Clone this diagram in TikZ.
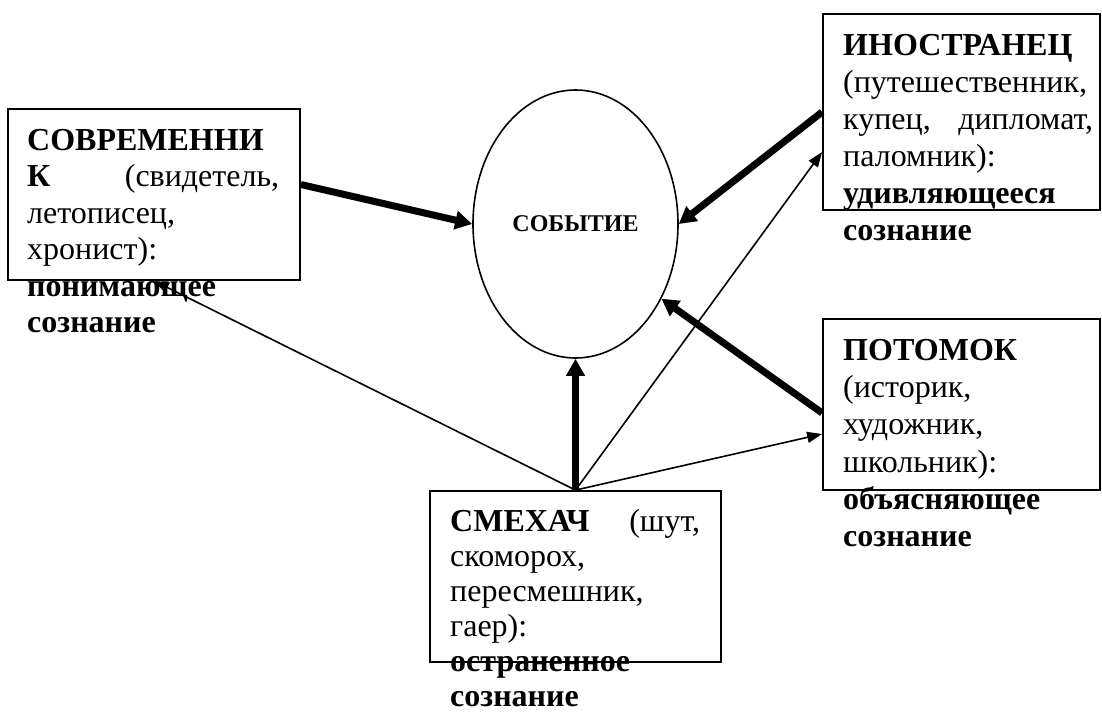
\documentclass[tikz,border=0pt]{standalone}
\usepackage{fontspec}
\setmainfont{Liberation Serif}
\usetikzlibrary{shapes.geometric,arrows.meta}
\begin{document}
\begin{tikzpicture}[x=1pt,y=-1pt,
  box/.style={draw,line width=1.8pt,rectangle,inner sep=0pt},
  txt/.style={anchor=north west,inner sep=0pt,text width=252pt,align=left},
  thickarrow/.style={line width=7pt,-{Triangle[length=17pt,width=18pt]}},
  thinarrow/.style={line width=1.6pt,-{Triangle[length=15pt,width=11pt]}},
]
\useasboundingbox[fill=white] (0,0) rectangle (1102,714);

% texts
\node[txt,font=\fontsize{32}{36.5}\selectfont] (ltxt) at (27,126)
  {\rule{0pt}{24pt}\textbf{СОВРЕМЕННИ}\\
   \textbf{К}\hfill(свидетель,\\
   летописец,\\
   хронист):\\
   \textbf{понимающее}\\
   \textbf{сознание}};
\node[txt,text width=250pt,font=\fontsize{32}{37}\selectfont] (itxt) at (843,31)
  {\rule{0pt}{24pt}\textbf{ИНОСТРАНЕЦ}\\
   (путешественник,\\
   купец,\hfill дипломат,\\
   паломник):\\
   \textbf{удивляющееся}\\
   \textbf{сознание}};
\node[txt,font=\fontsize{32}{37.3}\selectfont] (ptxt) at (843,336)
  {\rule{0pt}{24pt}\textbf{ПОТОМОК}\\
   (историк,\\
   художник,\\
   школьник):\\
   \textbf{объясняющее}\\
   \textbf{сознание}};
\node[txt,text width=250pt,font=\fontsize{32}{35}\selectfont] (stxt) at (450,507)
  {\rule{0pt}{24pt}\textbf{СМЕХАЧ}\hfill(шут,\\
   скоморох,\\
   пересмешник,\\
   гаер):\\
   \textbf{остраненное}\\
   \textbf{сознание}};

% boxes
\node[box,minimum width=292pt,minimum height=171pt] (lbox) at (154,194.5) {};
\node[box,minimum width=277pt,minimum height=196pt] (ibox) at (961.5,112) {};
\node[box,minimum width=277pt,minimum height=171pt] (pbox) at (961.5,404.5) {};
\node[box,minimum width=291pt,minimum height=171pt] (sbox) at (575.5,576.5) {};

% event
\node[draw,ellipse,line width=1.6pt,minimum width=205pt,minimum height=268pt,inner sep=0pt,
      font=\bfseries\fontsize{24}{29}\selectfont] (ev) at (575.5,224) {СОБЫТИЕ};

% connectors
\draw[thickarrow] ([yshift=10pt]lbox.east) -- (ev.west);
\draw[thickarrow] (ibox.west) -- (ev.east);
\draw[thickarrow] ([yshift=-8.5pt]pbox.west) -- (ev.-41);
\draw[thickarrow] (sbox.north) -- (ev.south);
\draw[thinarrow] (sbox.north) -- ([yshift=-40pt]ibox.west);
\draw[thinarrow] (sbox.north) -- ([yshift=-29.5pt]pbox.west);
\draw[thinarrow] (sbox.north) -- (lbox.south);
\end{tikzpicture}
\end{document}
